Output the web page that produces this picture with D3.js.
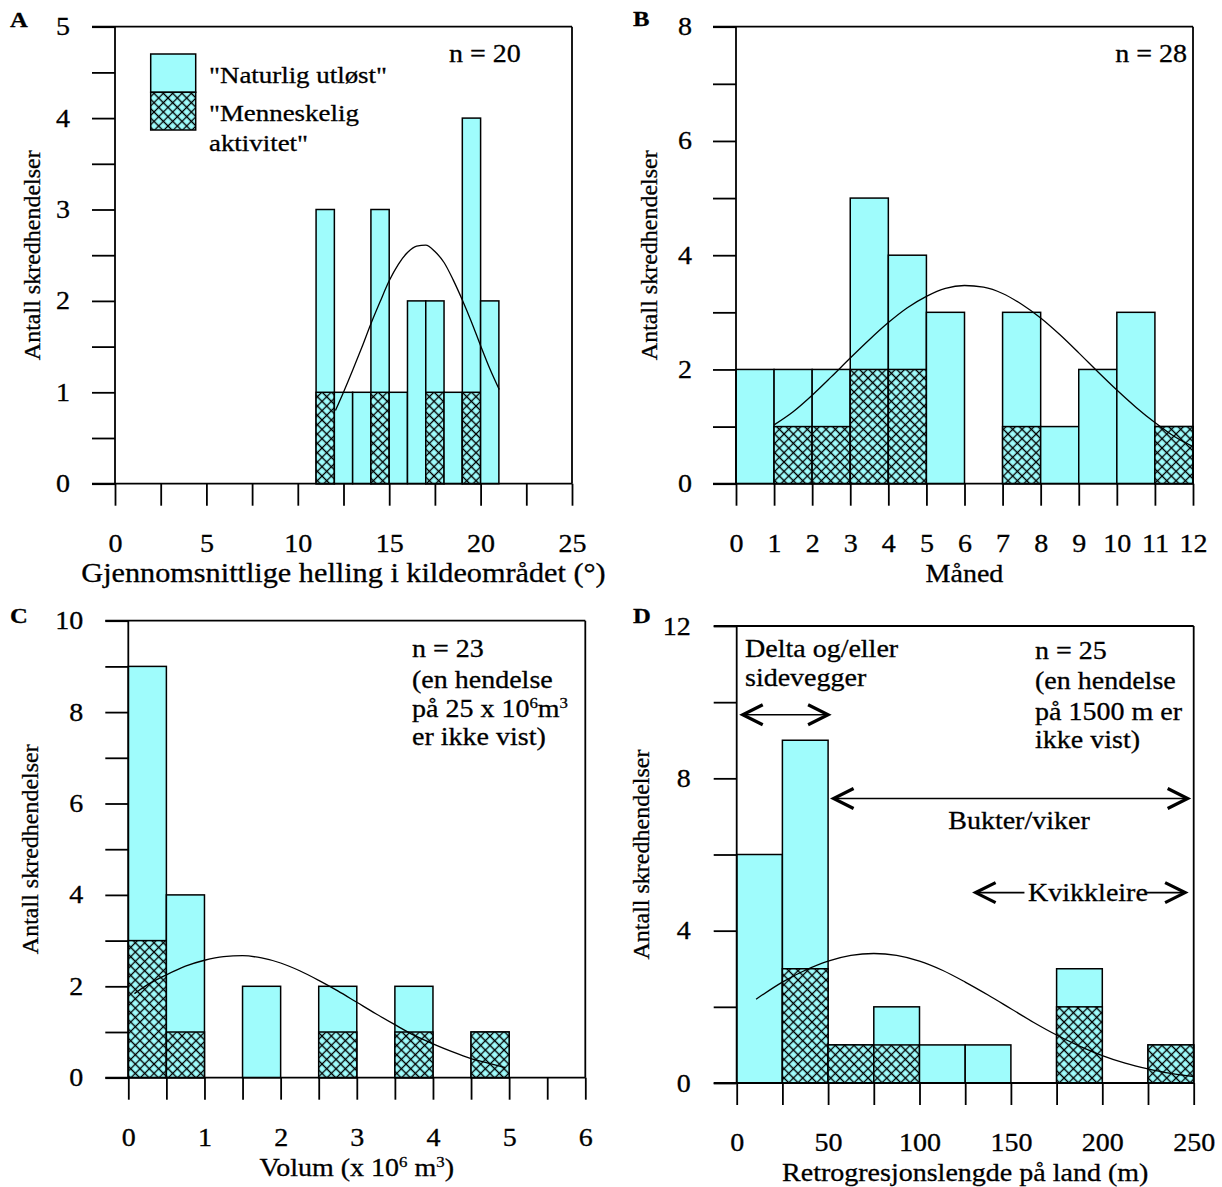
<!DOCTYPE html>
<html>
<head>
<meta charset="utf-8">
<script src="https://cdn.jsdelivr.net/npm/d3@7"></script>
<style>
  body { margin: 0; background: #fff; }
  svg { display: block; }
  text { stroke: #000; stroke-width: 0.3px; }
</style>
</head>
<body>
<script>
// ---------------- DATA ----------------
// Panel A: mean slope in source area (°), bins of width 1
const slopeBinStarts = [11, 12, 13, 14, 15, 16, 17, 18, 19, 20];
const slopeNatural   = [3, 1, 1, 3, 1, 2, 2, 1, 4, 2];   // total bar height
const slopeHuman     = [1, 0, 0, 1, 0, 0, 1, 0, 1, 0];   // hatched part
const slopeCurveX = [12.06, 12.5, 13, 13.5, 14, 14.5, 15, 15.5, 16, 16.5, 17, 17.5, 18, 18.5, 19, 19.5, 20, 20.5, 21.02];
const slopeCurveY = [0.80, 1.00, 1.24, 1.49, 1.75, 1.99, 2.22, 2.40, 2.53, 2.60, 2.61, 2.54, 2.42, 2.23, 2.01, 1.77, 1.51, 1.26, 1.03];
const slopeXTicks = [0, 2.5, 5, 7.5, 10, 12.5, 15, 17.5, 20, 22.5, 25];
const slopeXLabels = [0, 5, 10, 15, 20, 25];
const slopeYTicks = [0, 0.5, 1, 1.5, 2, 2.5, 3, 3.5, 4, 4.5, 5];
const slopeYLabels = [0, 1, 2, 3, 4, 5];

// Panel B: month, bins of width 1
const monthBinStarts = [0, 1, 2, 3, 4, 5, 6, 7, 8, 9, 10, 11];
const monthNatural   = [2, 2, 2, 5, 4, 3, 0, 3, 1, 2, 3, 1];
const monthHuman     = [0, 1, 1, 2, 2, 0, 0, 1, 0, 0, 0, 1];
const monthCurveX = [1, 1.5, 2, 2.5, 3, 3.5, 4, 4.5, 5, 5.5, 6, 6.5, 7, 7.5, 8, 8.5, 9, 9.5, 10, 10.5, 11, 11.5, 12];
const monthCurveY = [1.03, 1.26, 1.55, 1.87, 2.20, 2.52, 2.82, 3.08, 3.28, 3.42, 3.47, 3.44, 3.33, 3.14, 2.90, 2.61, 2.29, 1.96, 1.64, 1.34, 1.07, 0.83, 0.65];
const monthXTicks = [0, 1, 2, 3, 4, 5, 6, 7, 8, 9, 10, 11, 12];
const monthXLabels = [0, 1, 2, 3, 4, 5, 6, 7, 8, 9, 10, 11, 12];
const monthYTicks = [0, 1, 2, 3, 4, 5, 6, 7, 8];
const monthYLabels = [0, 2, 4, 6, 8];

// Panel C: volume (x 10^6 m3), bins of width 0.5
const volBinStarts = [0, 0.5, 1, 1.5, 2, 2.5, 3, 3.5, 4, 4.5];
const volNatural   = [9, 4, 0, 2, 0, 2, 0, 2, 0, 1];
const volHuman     = [3, 1, 0, 0, 0, 1, 0, 1, 0, 1];
const volCurveX = [0.08, 0.25, 0.5, 0.75, 1, 1.25, 1.5, 1.75, 2, 2.25, 2.5, 2.75, 3, 3.25, 3.5, 3.75, 4, 4.25, 4.5, 4.75, 4.95];
const volCurveY = [1.84, 2.03, 2.25, 2.44, 2.57, 2.65, 2.67, 2.62, 2.51, 2.34, 2.13, 1.90, 1.65, 1.40, 1.16, 0.93, 0.74, 0.57, 0.42, 0.31, 0.22];
const volXTicks = [0, 0.5, 1, 1.5, 2, 2.5, 3, 3.5, 4, 4.5, 5, 5.5, 6];
const volXLabels = [0, 1, 2, 3, 4, 5, 6];
const volYTicks = [0, 1, 2, 3, 4, 5, 6, 7, 8, 9, 10];
const volYLabels = [0, 2, 4, 6, 8, 10];

// Panel D: retrogression length on land (m), bins of width 25
const retroBinStarts = [0, 25, 50, 75, 100, 125, 150, 175, 200, 225];
const retroNatural   = [6, 9, 1, 2, 1, 1, 0, 3, 0, 1];
const retroHuman     = [0, 3, 1, 1, 0, 0, 0, 2, 0, 1];
const retroCurveX = [10.6, 25, 37.5, 50, 62.5, 75, 87.5, 100, 112.5, 125, 137.5, 150, 162.5, 175, 187.5, 200, 212.5, 225, 237.5, 250];
const retroCurveY = [2.20, 2.65, 2.96, 3.20, 3.35, 3.40, 3.35, 3.20, 2.96, 2.65, 2.31, 1.95, 1.59, 1.26, 0.97, 0.72, 0.52, 0.37, 0.25, 0.17];
const retroXTicks = [0, 25, 50, 75, 100, 125, 150, 175, 200, 225, 250];
const retroXLabels = [0, 50, 100, 150, 200, 250];
const retroYTicks = [0, 2, 4, 6, 8, 10, 12];
const retroYLabels = [0, 4, 8, 12];

// ---------------- STYLE ----------------
const FONT = '"Liberation Serif", "Times New Roman", serif';
const CYAN = "#9ffcfc";
const FS = 25;           // tick labels / titles
const STRETCH = 1.12;    // horizontal text stretch of the original
const PW = 457, PH = 457;
const TICK = 23;
const AXW = 1.8;

const svg = d3.select("body").append("svg")
  .attr("width", 1222).attr("height", 1187)
  .style("font-family", FONT);

const defs = svg.append("defs");
const pat = defs.append("pattern")
  .attr("id", "hatch")
  .attr("patternUnits", "userSpaceOnUse")
  .attr("width", 6.6).attr("height", 6.6)
  .attr("patternTransform", "rotate(45)");
pat.append("rect").attr("width", 6.6).attr("height", 6.6).attr("fill", CYAN);
pat.append("path").attr("d", "M0,3.3H6.6M3.3,0V6.6")
  .attr("stroke", "#000").attr("stroke-width", 1.3);

function panel(p) {
  const g = svg.append("g");
  const x = d3.scaleLinear().domain(p.xDomain).range([p.left, p.left + PW]);
  const y = d3.scaleLinear().domain(p.yDomain).range([p.top + PH, p.top]);

  // bars
  p.bins.forEach((b, i) => {
    const t = p.total[i], h = p.human[i];
    const bx = x(b), bw = x(b + p.binWidth) - x(b);
    if (t > 0) {
      g.append("rect").attr("x", bx).attr("y", y(t)).attr("width", bw).attr("height", y(0) - y(t))
        .attr("fill", CYAN).attr("stroke", "#000").attr("stroke-width", 1.5);
    }
    if (h > 0) {
      g.append("rect").attr("x", bx).attr("y", y(h)).attr("width", bw).attr("height", y(0) - y(h))
        .attr("fill", "url(#hatch)").attr("stroke", "#000").attr("stroke-width", 1.5);
    }
  });

  // fitted curve
  g.append("path")
    .datum(d3.zip(p.curveX, p.curveY))
    .attr("d", d3.line().x(d => x(d[0])).y(d => y(d[1])).curve(d3.curveMonotoneX))
    .attr("fill", "none").attr("stroke", "#000").attr("stroke-width", 1.3);

  // y axis
  const gy = g.append("g").attr("transform", `translate(${p.left},0)`)
    .call(d3.axisLeft(y).tickValues(p.yTicks).tickSize(TICK).tickPadding(p.yPad)
      .tickFormat(d => p.yLabels.includes(d) ? d : ""));
  gy.select(".domain").remove();
  gy.attr("font-family", FONT).attr("font-size", FS);
  gy.selectAll("line").attr("stroke-width", AXW);

  // x axis
  const gx = g.append("g").attr("transform", `translate(0,${y(0)})`)
    .call(d3.axisBottom(x).tickValues(p.xTicks).tickSize(TICK - 1)
      .tickFormat(d => p.xLabels.includes(d) ? d : ""));
  gx.select(".domain").remove();
  gx.attr("font-family", FONT).attr("font-size", FS);
  gx.selectAll("line").attr("stroke-width", AXW);
  gx.selectAll("text").attr("y", 68).attr("dy", null);

  // frame
  const fr = g.append("g").attr("stroke", "#000").attr("stroke-width", AXW);
  fr.append("line").attr("x1", p.left).attr("x2", p.left).attr("y1", p.top).attr("y2", y(0));
  fr.append("line").attr("x1", p.left + PW).attr("x2", p.left + PW).attr("y1", p.top).attr("y2", y(0));
  fr.append("line").attr("x1", p.left - TICK).attr("x2", p.left + PW).attr("y1", p.top).attr("y2", p.top);
  fr.append("line").attr("x1", p.left - TICK).attr("x2", p.left + PW).attr("y1", y(0)).attr("y2", y(0));

  // x title
  const xt = g.append("text").attr("x", p.left + PW / 2).attr("y", y(0) + 98)
    .attr("text-anchor", "middle").attr("font-size", p.titleSize || FS);
  p.xTitle(xt);

  // y title
  g.append("text").attr("class", "rot")
    .attr("transform", `translate(${p.left - p.yTitleOff},${p.top + PH / 2}) rotate(-90)`)
    .attr("text-anchor", "middle").attr("font-size", 24)
    .text("Antall skredhendelser");

  // panel letter
  g.append("text").attr("x", p.letterX).attr("y", p.letterY)
    .attr("font-weight", "bold").attr("font-size", 22).text(p.letter);

  return { g, x, y };
}

// ---------- A ----------
const A = panel({
  left: 115, top: 26.7, xDomain: [0, 25], yDomain: [0, 5],
  bins: slopeBinStarts, binWidth: 1, total: slopeNatural, human: slopeHuman,
  curveX: slopeCurveX, curveY: slopeCurveY,
  xTicks: slopeXTicks, xLabels: slopeXLabels, yTicks: slopeYTicks, yLabels: slopeYLabels,
  yPad: 22, yTitleOff: 75, letter: "A", letterX: 10, letterY: 27, titleSize: 27,
  xTitle: t => t.text("Gjennomsnittlige helling i kildeområdet (°)")
});
A.g.append("text").attr("x", 449).attr("y", 62).attr("font-size", FS).text("n = 20");
A.g.append("rect").attr("x", 150.7).attr("y", 54).attr("width", 45).attr("height", 38.3)
  .attr("fill", CYAN).attr("stroke", "#000").attr("stroke-width", 1.5);
A.g.append("rect").attr("x", 150.7).attr("y", 92.3).attr("width", 45).attr("height", 37.7)
  .attr("fill", "url(#hatch)").attr("stroke", "#000").attr("stroke-width", 1.5);
A.g.append("text").attr("x", 209).attr("y", 83).attr("font-size", 24).text("\"Naturlig utløst\"");
A.g.append("text").attr("x", 209).attr("y", 121).attr("font-size", 24).text("\"Menneskelig");
A.g.append("text").attr("x", 209).attr("y", 151).attr("font-size", 24).text("aktivitet\"");

// ---------- B ----------
const B = panel({
  left: 736, top: 26.7, xDomain: [0, 12], yDomain: [0, 8],
  bins: monthBinStarts, binWidth: 1, total: monthNatural, human: monthHuman,
  curveX: monthCurveX, curveY: monthCurveY,
  xTicks: monthXTicks, xLabels: monthXLabels, yTicks: monthYTicks, yLabels: monthYLabels,
  yPad: 21, yTitleOff: 79, letter: "B", letterX: 633, letterY: 26,
  xTitle: t => t.text("Måned")
});
B.g.append("text").attr("x", 1187).attr("y", 62).attr("text-anchor", "end").attr("font-size", FS).text("n = 28");

// ---------- C ----------
const C = panel({
  left: 128.3, top: 620.7, xDomain: [0, 6], yDomain: [0, 10],
  bins: volBinStarts, binWidth: 0.5, total: volNatural, human: volHuman,
  curveX: volCurveX, curveY: volCurveY,
  xTicks: volXTicks, xLabels: volXLabels, yTicks: volYTicks, yLabels: volYLabels,
  yPad: 22, yTitleOff: 90, letter: "C", letterX: 10, letterY: 623,
  xTitle: t => {
    t.append("tspan").text("Volum (x 10");
    t.append("tspan").attr("font-size", 15).attr("dy", -9).text("6");
    t.append("tspan").attr("dy", 9).text(" m");
    t.append("tspan").attr("font-size", 15).attr("dy", -9).text("3");
    t.append("tspan").attr("dy", 9).text(")");
  }
});
{
  const tx = 412;
  C.g.append("text").attr("x", tx).attr("y", 657).attr("font-size", FS).text("n = 23");
  C.g.append("text").attr("x", tx).attr("y", 688).attr("font-size", FS).text("(en hendelse");
  const t3 = C.g.append("text").attr("x", tx).attr("y", 717).attr("font-size", FS);
  t3.append("tspan").text("på 25 x 10");
  t3.append("tspan").attr("font-size", 15).attr("dy", -9).text("6");
  t3.append("tspan").attr("dy", 9).text("m");
  t3.append("tspan").attr("font-size", 15).attr("dy", -9).text("3");
  C.g.append("text").attr("x", tx).attr("y", 745).attr("font-size", FS).text("er ikke vist)");
}

// ---------- D ----------
const D = panel({
  left: 736.7, top: 626, xDomain: [0, 250], yDomain: [0, 12],
  bins: retroBinStarts, binWidth: 25, total: retroNatural, human: retroHuman,
  curveX: retroCurveX, curveY: retroCurveY,
  xTicks: retroXTicks, xLabels: retroXLabels, yTicks: retroYTicks, yLabels: retroYLabels,
  yPad: 23, yTitleOff: 88, letter: "D", letterX: 633, letterY: 623,
  xTitle: t => t.text("Retrogresjonslengde på land (m)")
});

function dblArrow(g, x1, x2, yy, headL, headH) {
  g.append("line").attr("x1", x1 + 2).attr("x2", x2 - 2).attr("y1", yy).attr("y2", yy)
    .attr("stroke", "#000").attr("stroke-width", 1.6);
  if (headL) g.append("path").attr("d", `M${x1 + 20},${yy - 10}L${x1},${yy}L${x1 + 20},${yy + 10}`)
    .attr("fill", "none").attr("stroke", "#000").attr("stroke-width", 3.2);
  if (headH) g.append("path").attr("d", `M${x2 - 20},${yy - 10}L${x2},${yy}L${x2 - 20},${yy + 10}`)
    .attr("fill", "none").attr("stroke", "#000").attr("stroke-width", 3.2);
}
{
  const g = D.g, x = D.x, y = D.y;
  g.append("text").attr("x", 745).attr("y", 657).attr("font-size", FS).text("Delta og/eller");
  g.append("text").attr("x", 745).attr("y", 686).attr("font-size", FS).text("sidevegger");
  dblArrow(g, x(3.3), x(50), y(9.67), true, true);

  g.append("text").attr("x", 1035).attr("y", 659).attr("font-size", FS).text("n = 25");
  g.append("text").attr("x", 1035).attr("y", 689).attr("font-size", FS).text("(en hendelse");
  g.append("text").attr("x", 1035).attr("y", 720).attr("font-size", FS).text("på 1500 m er");
  g.append("text").attr("x", 1035).attr("y", 748).attr("font-size", FS).text("ikke vist)");

  dblArrow(g, x(53), x(246.7), y(7.47), true, true);
  g.append("text").attr("x", 1019).attr("y", 829).attr("text-anchor", "middle").attr("font-size", FS).text("Bukter/viker");

  const ky = y(5.0);
  dblArrow(g, x(130.7), x(158.5), ky, true, false);
  dblArrow(g, x(223), x(245.3), ky, false, true);
  g.append("text").attr("x", 1088).attr("y", ky + 8).attr("text-anchor", "middle").attr("font-size", FS).text("Kvikkleire");
}

// horizontal stretch of text to mimic the original's wider lettering
svg.selectAll("text").each(function () {
  if (this.getAttribute("class") === "rot") return;
  const L = this.getComputedTextLength();
  if (L > 0) {
    d3.select(this).attr("textLength", L * STRETCH).attr("lengthAdjust", "spacingAndGlyphs");
  }
});
</script>
</body>
</html>
